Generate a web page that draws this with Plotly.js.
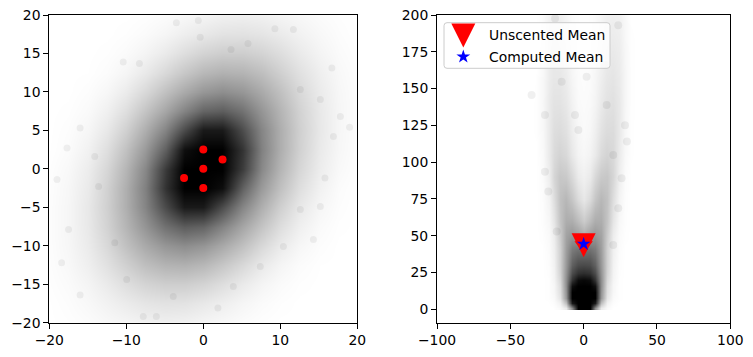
<!DOCTYPE html>
<html>
<head>
<meta charset="utf-8">
<script src="https://cdn.plot.ly/plotly-3.0.1.min.js"></script>
<style>html,body{margin:0;padding:0;background:#fff}#chart{width:753px;height:357px}</style>
</head>
<body>
<div id="chart"></div>
<script>
// ---------- Left panel: input Gaussian cloud (darkness) ----------
const leftGridX = [-20,-17.5,-15,-12.5,-10,-7.5,-5,-2.5,0,2.5,5,7.5,10,12.5,15,17.5,20];
const leftGridY = [-20,-17.5,-15,-12.5,-10,-7.5,-5,-2.5,0,2.5,5,7.5,10,12.5,15,17.5,20];
const leftDensity = [
  [0,0.005,0.014,0.028,0.04,0.054,0.059,0.054,0.04,0.028,0.014,0.005,0,0,0,0,0],
  [0.001,0.011,0.028,0.052,0.079,0.103,0.115,0.111,0.09,0.066,0.038,0.018,0.006,0,0,0,0],
  [0.005,0.018,0.043,0.082,0.129,0.17,0.193,0.193,0.17,0.129,0.082,0.043,0.018,0.005,0,0,0],
  [0.008,0.027,0.064,0.119,0.185,0.253,0.296,0.306,0.279,0.22,0.151,0.086,0.04,0.014,0.002,0,0],
  [0.01,0.033,0.079,0.151,0.245,0.334,0.41,0.444,0.41,0.334,0.245,0.151,0.079,0.033,0.01,0,0],
  [0.011,0.036,0.088,0.175,0.29,0.415,0.553,0.632,0.605,0.482,0.348,0.231,0.129,0.06,0.02,0.004,0],
  [0.01,0.035,0.091,0.185,0.315,0.478,0.703,0.9,0.9,0.703,0.478,0.315,0.185,0.091,0.035,0.01,0],
  [0.008,0.032,0.083,0.18,0.315,0.495,0.799,1,1,0.945,0.623,0.396,0.245,0.128,0.054,0.015,0.001],
  [0.005,0.025,0.072,0.159,0.29,0.466,0.767,1,1,1,0.767,0.466,0.29,0.159,0.072,0.025,0.005],
  [0.001,0.015,0.054,0.128,0.245,0.396,0.623,0.945,1,1,0.799,0.495,0.315,0.18,0.083,0.032,0.008],
  [0,0.01,0.035,0.091,0.185,0.315,0.478,0.703,0.9,0.9,0.703,0.478,0.315,0.185,0.091,0.035,0.01],
  [0,0.004,0.02,0.06,0.129,0.231,0.348,0.482,0.605,0.632,0.553,0.415,0.29,0.175,0.088,0.036,0.011],
  [0,0,0.01,0.033,0.079,0.151,0.245,0.334,0.41,0.444,0.41,0.334,0.245,0.151,0.079,0.033,0.01],
  [0,0,0.002,0.014,0.04,0.086,0.151,0.22,0.279,0.306,0.296,0.253,0.185,0.119,0.064,0.027,0.008],
  [0,0,0,0.005,0.018,0.043,0.082,0.129,0.17,0.193,0.193,0.17,0.129,0.082,0.043,0.018,0.005],
  [0,0,0,0,0.006,0.018,0.038,0.066,0.09,0.111,0.115,0.103,0.079,0.052,0.028,0.011,0.001],
  [0,0,0,0,0,0.005,0.014,0.028,0.04,0.054,0.059,0.054,0.04,0.028,0.014,0.005,0]
];
// isolated faint samples in the periphery
const leftDotsX = [19,15.8,15.2,11.7,9.3,-0.65,-3.5,-0.4,-16,-17.7,-19,-18.4,-16,-7.8,-6.1,1.9,10.4,12.6,15.2,16.9,16.7,-17.5,-13.6,-10.4,-8.3,14.3,17.8,12.6,-11.5,-9.95,-3.9,3.9,7.4,-14.1,5.8,3.6];
const leftDotsY = [5.4,-1.2,9,18.1,18.2,19.3,19,17.1,5.3,2.7,-1.4,-12.2,-16.4,-19.2,-19.2,-18.1,-10.1,-5.3,-4.9,4.2,13.1,-7.9,-2.3,13.9,13.7,-9.2,6.8,10.3,-9.6,-14.4,-16.6,-15.3,-12.7,1.6,16.3,15.5];
// sigma points
const sigmaX = [0,0,2.5,-2.5,0];
const sigmaY = [0,2.5,1.2,-1.2,-2.5];

// ---------- Right panel: transformed cloud ----------
const rightGridX = [-36,-32,-28,-24,-20,-16,-12,-8,-4,0,4,8,12,16,20,24,28,32,36];
const rightGridY = [1,4,8,12,16,20,25,30,40,50,60,75,90,105,120,140,160,180,200];
const rightDensity = [
  [0,0,0,0,0,0.02,0.08,0.45,1,1,1,0.45,0.08,0.02,0,0,0,0,0],
  [0,0,0,0,0.01,0.05,0.25,0.9,1,1,1,0.9,0.25,0.05,0.01,0,0,0,0],
  [0,0,0,0.005,0.02,0.1,0.4,1,1,1,1,1,0.4,0.1,0.02,0.005,0,0,0],
  [0,0,0,0.005,0.03,0.12,0.42,1,1,1,1,1,0.42,0.12,0.03,0.005,0,0,0],
  [0,0,0,0.005,0.03,0.13,0.44,0.94,1,1,1,0.94,0.44,0.13,0.03,0.005,0,0,0],
  [0,0,0,0.005,0.04,0.15,0.44,0.8,0.95,0.97,0.95,0.8,0.44,0.15,0.04,0.005,0,0,0],
  [0,0,0,0.008,0.045,0.17,0.42,0.7,0.8,0.82,0.8,0.7,0.42,0.17,0.045,0.008,0,0,0],
  [0,0,0,0.01,0.05,0.18,0.4,0.62,0.7,0.71,0.7,0.62,0.4,0.18,0.05,0.01,0,0,0],
  [0,0,0,0.015,0.06,0.18,0.38,0.52,0.56,0.55,0.56,0.52,0.38,0.18,0.06,0.015,0,0,0],
  [0,0,0.005,0.02,0.07,0.2,0.36,0.41,0.38,0.33,0.38,0.41,0.36,0.2,0.07,0.02,0.005,0,0],
  [0,0,0.008,0.03,0.1,0.23,0.32,0.32,0.26,0.2,0.26,0.32,0.32,0.23,0.1,0.03,0.008,0,0],
  [0,0,0.01,0.045,0.13,0.24,0.28,0.22,0.14,0.09,0.14,0.22,0.28,0.24,0.13,0.045,0.01,0,0],
  [0,0,0.015,0.065,0.16,0.22,0.21,0.15,0.08,0.055,0.08,0.15,0.21,0.22,0.16,0.065,0.015,0,0],
  [0,0,0.02,0.08,0.14,0.17,0.15,0.09,0.045,0.03,0.045,0.08,0.14,0.17,0.15,0.08,0.025,0.003,0],
  [0,0.003,0.025,0.08,0.13,0.14,0.12,0.07,0.035,0.02,0.03,0.06,0.11,0.14,0.14,0.09,0.03,0.003,0],
  [0,0.003,0.03,0.08,0.11,0.11,0.09,0.05,0.02,0.015,0.02,0.04,0.08,0.11,0.12,0.09,0.035,0.005,0],
  [0,0.002,0.025,0.07,0.09,0.09,0.07,0.035,0.015,0.01,0.015,0.03,0.06,0.09,0.1,0.08,0.035,0.005,0],
  [0,0,0.02,0.06,0.08,0.07,0.05,0.025,0.01,0.01,0.01,0.02,0.045,0.07,0.08,0.07,0.03,0.005,0],
  [0,0,0.015,0.045,0.06,0.06,0.04,0.015,0.01,0.005,0.01,0.015,0.035,0.055,0.06,0.055,0.025,0,0]
];
const rightDotsX = [-35.5,2,28.2,-26.4,23.6,-19.5,-3.6,-5.9,15.7,-15,14.5,20.2,-24.1,23.6,-26.4,25.9,20.2,-18.4,29.5];
const rightDotsY = [145.6,158,125,132,193,197.7,121.9,132,138.8,154.7,166,104.9,80,68.6,93.5,89,43.7,52.8,114];
// means
const unscentedMeanX = [0];
const unscentedMeanY = [43.5];
const computedMeanX = [0];
const computedMeanY = [44.4];
const legendLabels = ['Unscented Mean', 'Computed Mean'];

// ---------- styling ----------
const FONT = 'DejaVu Sans, Liberation Sans, sans-serif';
const FS = 13.9;
const W = 753, H = 357;
const yDom = [1 - 322.7 / H, 1 - 15 / H];
const x1Dom = [49.3 / W, 357.3 / W];
const x2Dom = [437 / W, 730.3 / W];
const grayScale = [[0, 'rgb(255,255,255)'], [1, 'rgb(0,0,0)']];

function axisStyle(extra) {
  return Object.assign({
    showgrid: false, zeroline: false, showline: true, mirror: true,
    linecolor: '#000', linewidth: 1, ticks: 'outside', ticklen: 5, tickwidth: 1,
    tickcolor: '#000', tickfont: {family: FONT, size: FS, color: '#000'},
    fixedrange: true
  }, extra);
}

// star polygon (marker outline in pixels, y up)
const starPts = [[0,7.3],[-1.64,2.26],[-6.94,2.26],[-2.65,-0.86],[-4.29,-5.91],[0,-2.79],[4.29,-5.91],[2.65,-0.86],[6.94,2.26],[1.64,2.26]];
function starPath(dx, dy) {
  return 'M' + starPts.map(p => (p[0] + dx).toFixed(2) + ',' + (p[1] + dy).toFixed(2)).join('L') + 'Z';
}
function triPath(dx, dy) {
  return 'M' + (dx - 12) + ',' + (dy + 12) + 'L' + (dx + 12) + ',' + (dy + 12) + 'L' + dx + ',' + (dy - 12) + 'Z';
}

const traces = [
  {type: 'heatmap', x: leftGridX, y: leftGridY, z: leftDensity, colorscale: grayScale,
   zmin: 0, zmax: 1, zsmooth: 'best', showscale: false, hoverinfo: 'skip', xaxis: 'x', yaxis: 'y'},
  {type: 'scatter', mode: 'markers', x: leftDotsX, y: leftDotsY, xaxis: 'x', yaxis: 'y',
   marker: {size: 7, color: 'rgba(0,0,0,0.055)'}, showlegend: false, hoverinfo: 'skip'},
  {type: 'scatter', mode: 'markers', x: sigmaX, y: sigmaY, xaxis: 'x', yaxis: 'y',
   marker: {size: 8, color: '#ff0000'}, showlegend: false, hoverinfo: 'skip'},
  {type: 'heatmap', x: rightGridX, y: rightGridY, z: rightDensity, colorscale: grayScale,
   zmin: 0, zmax: 1, zsmooth: 'best', showscale: false, hoverinfo: 'skip', xaxis: 'x2', yaxis: 'y2'},
  {type: 'scatter', mode: 'markers', x: rightDotsX, y: rightDotsY, xaxis: 'x2', yaxis: 'y2',
   marker: {size: 8, color: 'rgba(0,0,0,0.06)'}, showlegend: false, hoverinfo: 'skip'},
  {type: 'scatter', mode: 'markers', x: unscentedMeanX, y: unscentedMeanY, xaxis: 'x2', yaxis: 'y2',
   name: legendLabels[0], marker: {symbol: 'triangle-down', size: 16, color: '#ff0000'}, showlegend: false, hoverinfo: 'skip'},
  {type: 'scatter', mode: 'markers', x: computedMeanX, y: computedMeanY, xaxis: 'x2', yaxis: 'y2',
   name: legendLabels[1], marker: {symbol: 'star', size: 10, color: '#0000ff'}, showlegend: false, hoverinfo: 'skip'}
];

const ax2 = x2Dom[0], ay2 = yDom[1];
const shapes = [
  {type: 'path', layer: 'above', xref: 'x2', yref: 'y2', xsizemode: 'pixel', ysizemode: 'pixel',
   xanchor: unscentedMeanX[0], yanchor: unscentedMeanY[0], path: triPath(0, 0),
   fillcolor: '#ff0000', line: {width: 0}},
  {type: 'path', layer: 'above', xref: 'x2', yref: 'y2', xsizemode: 'pixel', ysizemode: 'pixel',
   xanchor: computedMeanX[0], yanchor: computedMeanY[0], path: starPath(0, 0),
   fillcolor: '#0000ff', line: {width: 0}},
  {type: 'path', layer: 'above', xref: 'paper', yref: 'paper', xsizemode: 'pixel', ysizemode: 'pixel',
   xanchor: ax2, yanchor: ay2,
   path: 'M10,-7.7H170Q173,-7.7 173,-10.7V-50.3Q173,-53.3 170,-53.3H10Q7,-53.3 7,-50.3V-10.7Q7,-7.7 10,-7.7Z',
   fillcolor: 'rgba(255,255,255,0.8)', line: {color: '#cccccc', width: 1}},
  {type: 'path', layer: 'above', xref: 'paper', yref: 'paper', xsizemode: 'pixel', ysizemode: 'pixel',
   xanchor: ax2, yanchor: ay2, path: triPath(26.3, -20.5), fillcolor: '#ff0000', line: {width: 0}},
  {type: 'path', layer: 'above', xref: 'paper', yref: 'paper', xsizemode: 'pixel', ysizemode: 'pixel',
   xanchor: ax2, yanchor: ay2, path: starPath(26.3, -41.7), fillcolor: '#0000ff', line: {width: 0}}
];

const annotations = legendLabels.map((t, i) => ({
  xref: 'paper', yref: 'paper', x: 487 / W, y: 1 - (i === 0 ? 35 : 56.5) / H,
  xanchor: 'left', yanchor: 'middle', showarrow: false, text: t,
  font: {family: FONT, size: FS, color: '#000'}
}));

const layout = {
  width: W, height: H, margin: {l: 0, r: 0, t: 0, b: 0},
  paper_bgcolor: '#fff', plot_bgcolor: '#fff', showlegend: false,
  xaxis: axisStyle({domain: x1Dom, range: [-20, 20], tickvals: [-20, -10, 0, 10, 20], anchor: 'y'}),
  yaxis: axisStyle({domain: yDom, range: [-20, 20], tickvals: [-20, -15, -10, -5, 0, 5, 10, 15, 20], anchor: 'x'}),
  xaxis2: axisStyle({domain: x2Dom, range: [-100, 100], tickvals: [-100, -50, 0, 50, 100], anchor: 'y2'}),
  yaxis2: axisStyle({domain: yDom, range: [-9.1, 200], tickvals: [0, 25, 50, 75, 100, 125, 150, 175, 200], anchor: 'x2'}),
  shapes: shapes, annotations: annotations
};

Plotly.newPlot('chart', traces, layout, {staticPlot: true, displayModeBar: false});
</script>
</body>
</html>
